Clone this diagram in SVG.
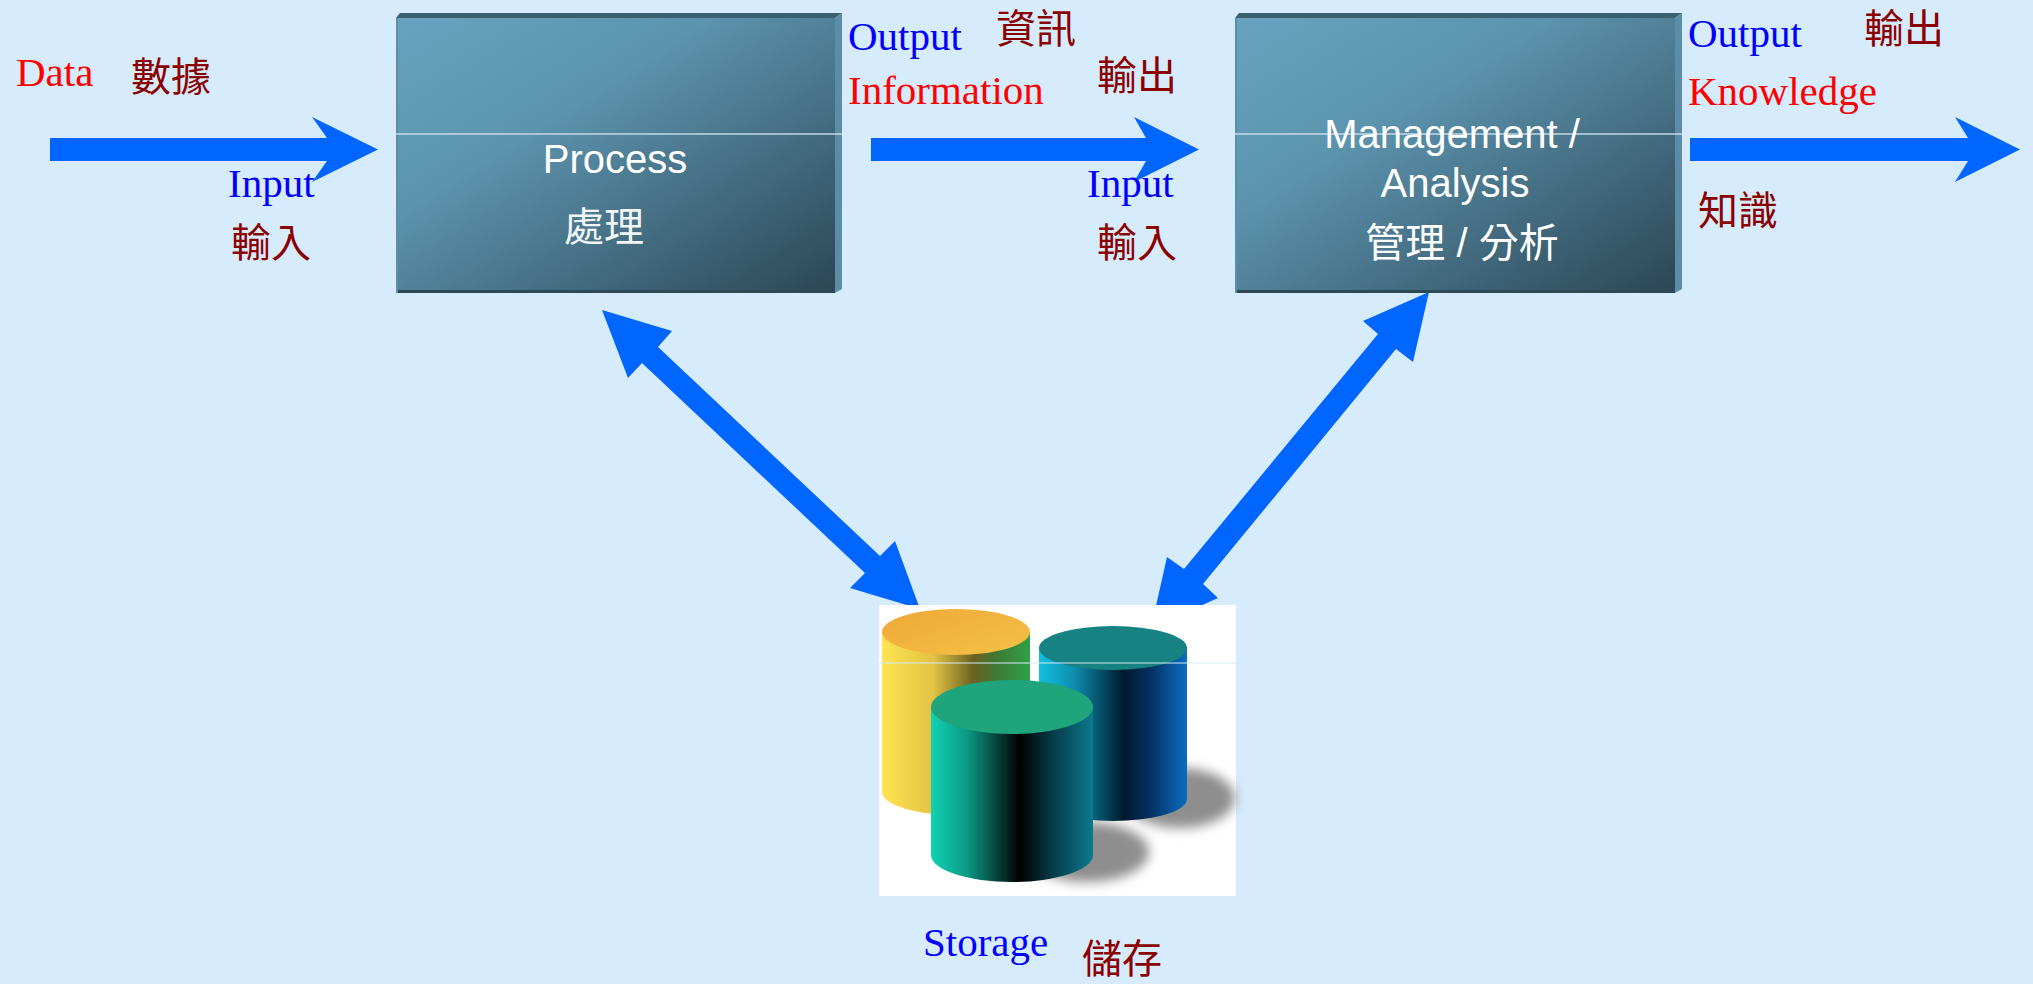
<svg xmlns="http://www.w3.org/2000/svg" width="2033" height="984" viewBox="0 0 2033 984">
<defs>
<linearGradient id="face" x1="0" y1="0" x2="1" y2="1">
<stop offset="0" stop-color="#67A3BF"/>
<stop offset="0.35" stop-color="#5C94AE"/>
<stop offset="1" stop-color="#2C4655"/>
</linearGradient>
<linearGradient id="ybody" x1="0" y1="0" x2="1" y2="0">
<stop offset="0" stop-color="#FFE452"/>
<stop offset="0.35" stop-color="#E2C243"/>
<stop offset="0.62" stop-color="#6A6020"/>
<stop offset="0.78" stop-color="#3E7A35"/>
<stop offset="1" stop-color="#2FA048"/>
</linearGradient>
<linearGradient id="ytop" x1="0" y1="0" x2="1" y2="1">
<stop offset="0" stop-color="#F0A838"/>
<stop offset="1" stop-color="#F3C245"/>
</linearGradient>
<linearGradient id="bbody" x1="0" y1="0" x2="1" y2="0">
<stop offset="0" stop-color="#12C0DE"/>
<stop offset="0.23" stop-color="#0D8FB0"/>
<stop offset="0.57" stop-color="#001A2E"/>
<stop offset="0.75" stop-color="#043060"/>
<stop offset="1" stop-color="#0A6EC0"/>
</linearGradient>
<linearGradient id="gbody" x1="0" y1="0" x2="1" y2="0">
<stop offset="0" stop-color="#10D2B2"/>
<stop offset="0.22" stop-color="#0C9A85"/>
<stop offset="0.55" stop-color="#000000"/>
<stop offset="0.75" stop-color="#063B48"/>
<stop offset="1" stop-color="#0A7A90"/>
</linearGradient>
<filter id="blur" x="-50%" y="-50%" width="200%" height="200%">
<feGaussianBlur stdDeviation="6"/>
</filter>
<style>
.bg{fill:#D6EBFC}
.arrow{fill:#0066FF}
.bevelTop{fill:#3B6171}
.bevelSide{fill:#5B8EA6}
.bevelBot{fill:#2E4956}
.face{fill:url(#face)}
.seam{stroke:#CFE3EE;stroke-width:1.5;opacity:0.9}
.box{font-family:"Liberation Sans","Noto Sans CJK TC",sans-serif;font-size:40px;fill:#FFFFFF;text-anchor:middle}
.cjkw{font-family:"Noto Sans CJK TC",sans-serif;font-size:40px;fill:#F2F6F8;text-anchor:middle}
.en{font-family:"Liberation Serif",serif;font-size:41px}
.blue{fill:#0000FF}
.red{fill:#FF0000}
.cjk{font-family:"Noto Sans CJK TC",sans-serif;font-size:40px;fill:#8B0000}
</style>
</defs>
<rect class="bg" x="0" y="0" width="2033" height="984"/>

<g id="connectors">
<polygon class="arrow" points="50,138 327,138 312,117 378,149.5 312,182 327,161 50,161"/>
<polygon class="arrow" points="871,138 1146,138 1134,117 1199,149.5 1134,182 1146,161 871,161"/>
<polygon class="arrow" points="1690,138 1968,138 1955,117 2020,149.5 1955,182 1968,161 1690,161"/>
<polygon class="arrow" points="602,310 672,331 658,347 880,556 895,541 920,609 850,588 865,573 642,363 628,378"/>
<polygon class="arrow" points="1429,292 1363,321 1378,334 1184,569 1167,557 1151,628 1218,598 1203,584 1396,349 1413,362"/>
</g>

<g id="process">
<polygon class="bevelTop" points="396,18 400,13 842,13 835,18"/>
<polygon class="bevelSide" points="835,18 842,13 842,289 835,293"/>
<rect class="face" x="396" y="18" width="439" height="275"/>
<rect class="bevelBot" x="396" y="290" width="439" height="3"/>
<rect x="396" y="18" width="2" height="275" fill="#5A8FA6"/>
<line class="seam" x1="396" y1="134" x2="842" y2="134"/>
<text class="box" x="615" y="173">Process</text>
<text class="cjkw" x="604" y="241">處理</text>
</g>

<g id="management">
<polygon class="bevelTop" points="1235,18 1239,13 1682,13 1675,18"/>
<polygon class="bevelSide" points="1675,18 1682,13 1682,289 1675,293"/>
<rect class="face" x="1235" y="18" width="440" height="275"/>
<rect class="bevelBot" x="1235" y="290" width="440" height="3"/>
<rect x="1235" y="18" width="2" height="275" fill="#5A8FA6"/>
<line class="seam" x1="1235" y1="134" x2="1682" y2="134"/>
<text class="box" x="1452" y="148">Management /</text>
<text class="box" x="1455" y="197">Analysis</text>
<text class="box" x="1462" y="257">管理 / 分析</text>
</g>

<g id="storage">
<rect x="879" y="605" width="357" height="291" fill="#FFFFFF"/>
<ellipse cx="1180" cy="798" rx="55" ry="30" fill="#8E8E8E" filter="url(#blur)"/>
<ellipse cx="1087" cy="852" rx="62" ry="30" fill="#8E8E8E" filter="url(#blur)"/>
<path d="M882,632 L882,792 A74,23 0 0 0 1030,792 L1030,632 Z" fill="url(#ybody)"/>
<ellipse cx="956" cy="632" rx="74" ry="23" fill="url(#ytop)"/>
<path d="M1039,648 L1039,799 A74,22 0 0 0 1187,799 L1187,648 Z" fill="url(#bbody)"/>
<ellipse cx="1113" cy="648" rx="74" ry="22" fill="#168282"/>
<path d="M931,707 L931,855 A81,27 0 0 0 1093,855 L1093,707 Z" fill="url(#gbody)"/>
<ellipse cx="1012" cy="707" rx="81" ry="27" fill="#1FA47C"/>
<line x1="879" y1="663" x2="1236" y2="663" stroke="#D6EAF8" stroke-width="1"/>
</g>

<g id="labels">
<text class="en red" x="16" y="86">Data</text>
<text class="cjk" x="131" y="91">數據</text>
<text class="en blue" x="228" y="197">Input</text>
<text class="cjk" x="231" y="257">輸入</text>
<text class="en blue" x="848" y="50">Output</text>
<text class="en red" x="848" y="104">Information</text>
<text class="cjk" x="996" y="43">資訊</text>
<text class="cjk" x="1097" y="90">輸出</text>
<text class="en blue" x="1087" y="197">Input</text>
<text class="cjk" x="1097" y="257">輸入</text>
<text class="en blue" x="1688" y="47">Output</text>
<text class="cjk" x="1864" y="43">輸出</text>
<text class="en red" x="1688" y="105">Knowledge</text>
<text class="cjk" x="1698" y="225">知識</text>
<text class="en blue" x="923" y="956">Storage</text>
<text class="cjk" x="1082" y="973">儲存</text>
</g>
</svg>
